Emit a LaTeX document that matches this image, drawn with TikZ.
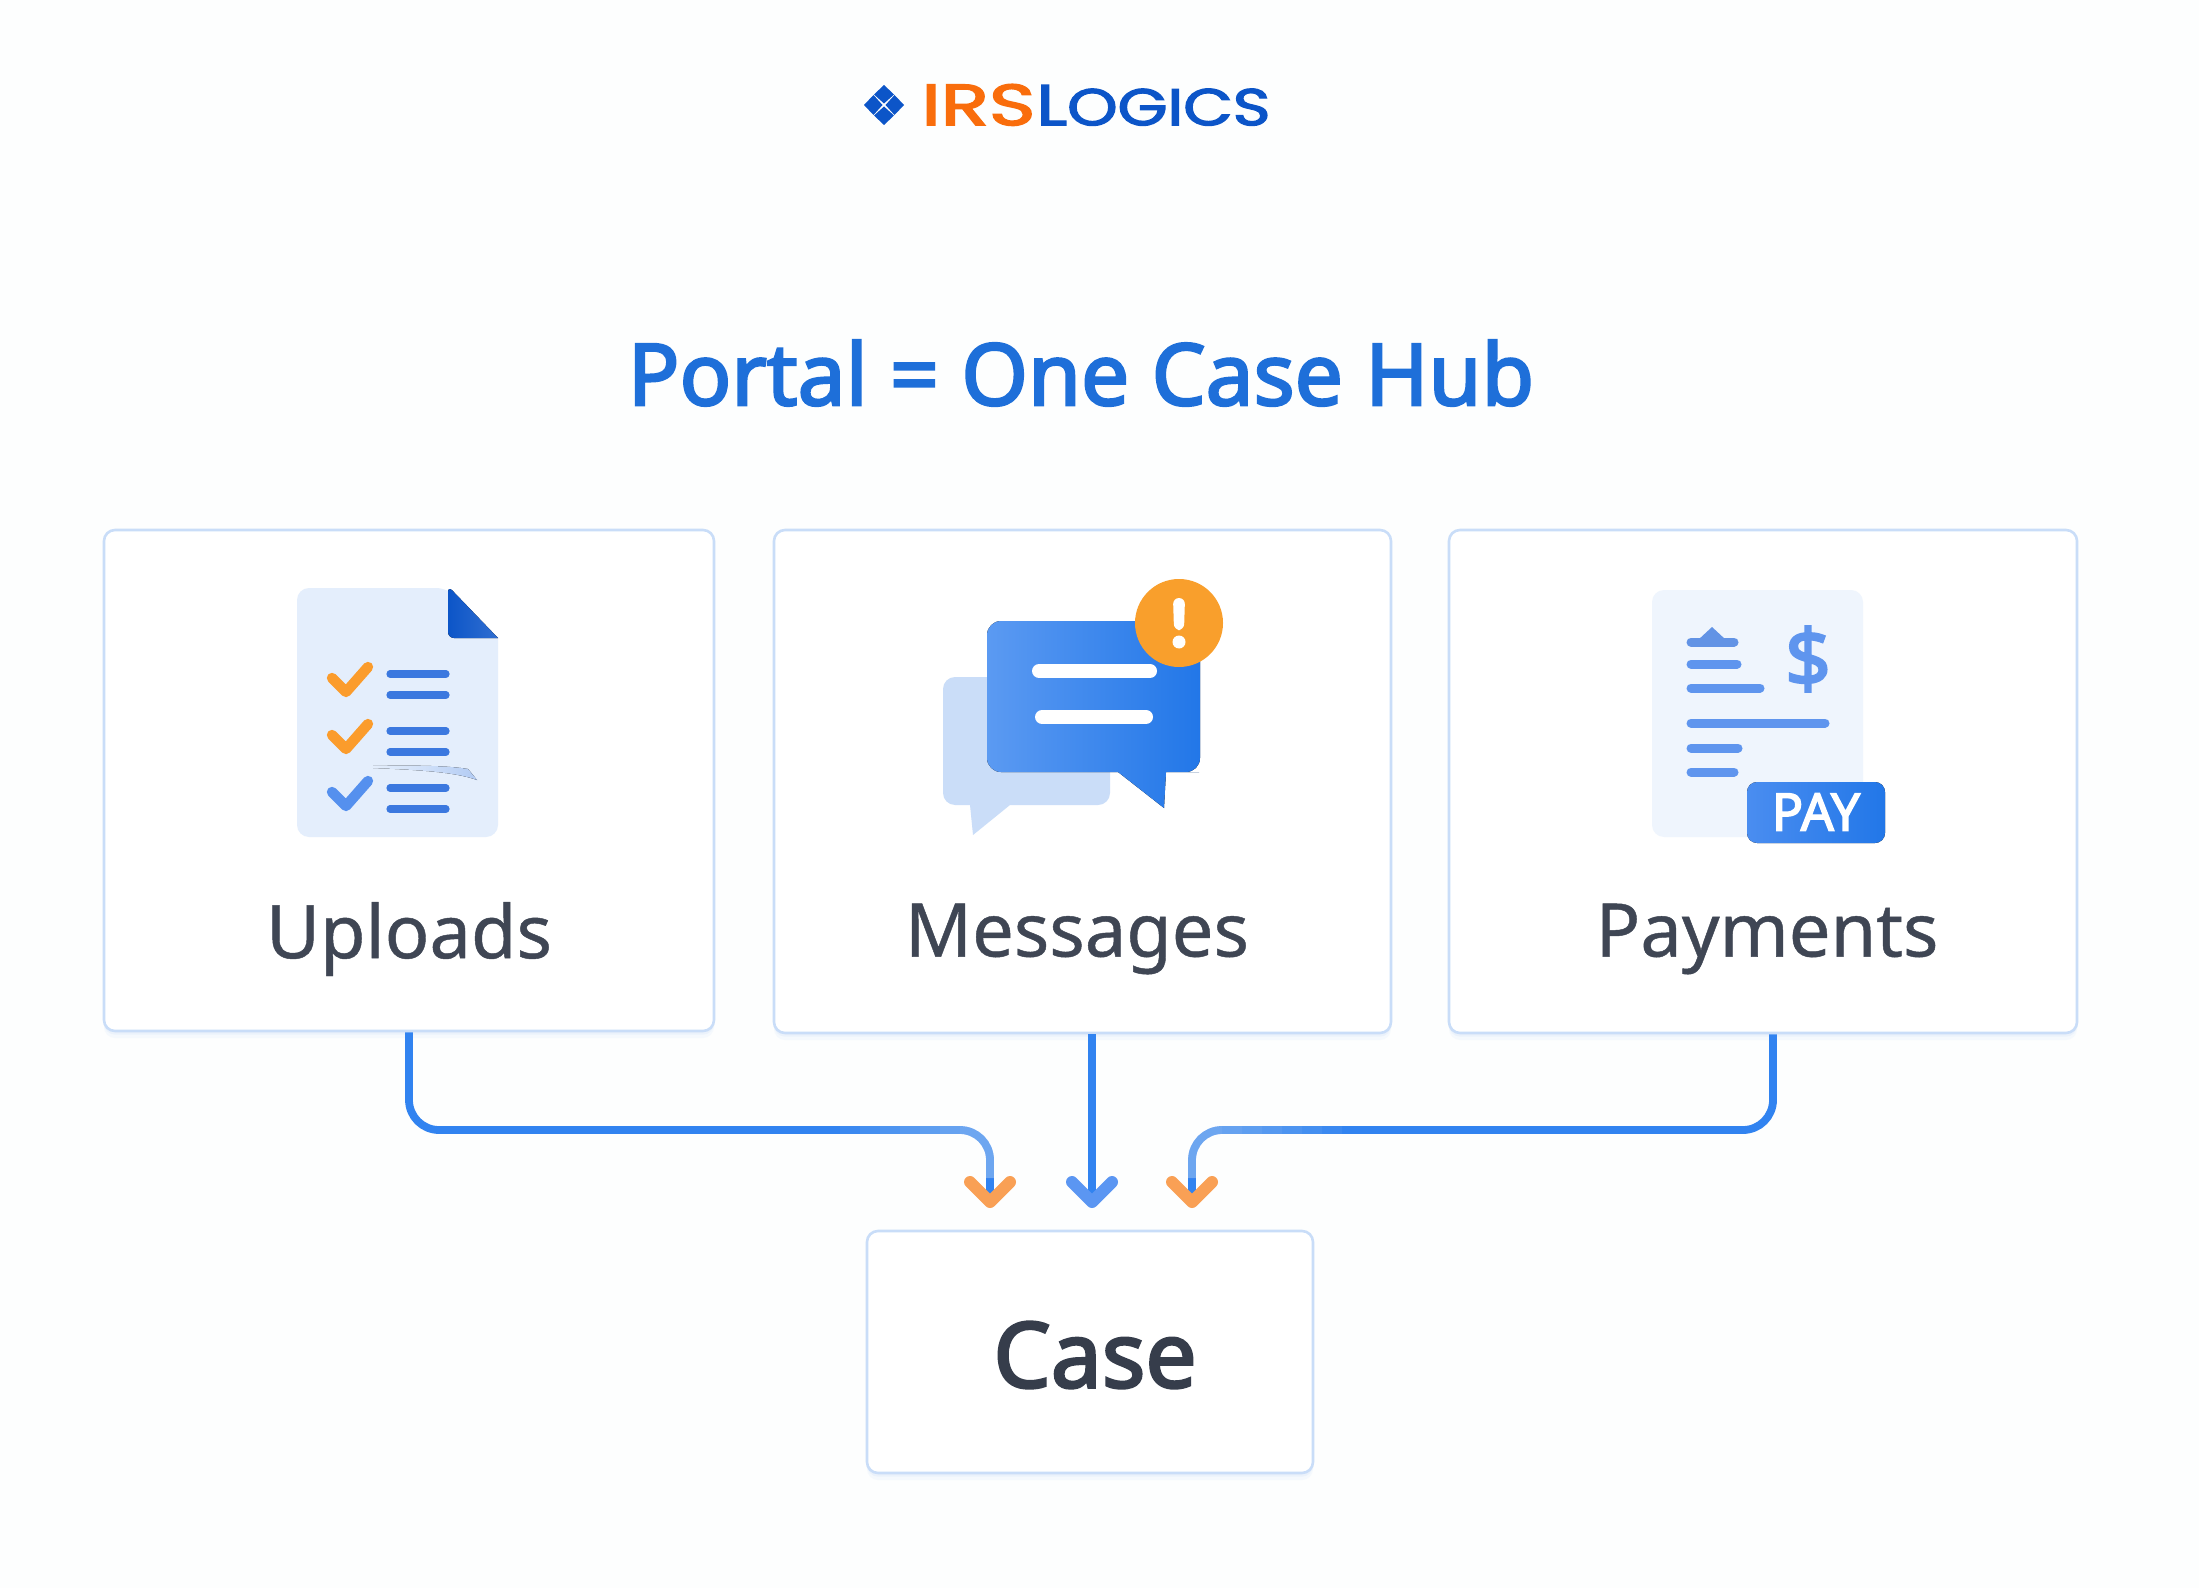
\documentclass[tikz,border=0pt]{standalone}
\usepackage{fontspec}
\usepackage{graphicx}
\usetikzlibrary{arrows.meta,shadows,calc}
\setmainfont{Noto Sans}
\newfontfamily\logofont{Poppins}[FakeBold=2.5]
\newfontfamily\midfont{Noto Sans}[FakeBold=0.6]
\newfontfamily\semifont{Noto Sans}[FakeBold=2.8]
\definecolor{bgc}{HTML}{FDFEFE}
\definecolor{titlec}{HTML}{1E6FD9}
\definecolor{labelc}{HTML}{3F4654}
\definecolor{casec}{HTML}{363D4B}
\definecolor{cardline}{HTML}{C9DDF8}
\definecolor{connc}{HTML}{3183F0}
\definecolor{tipb}{HTML}{5B96F2}
\definecolor{tipo}{HTML}{F9A055}
\definecolor{logoo}{HTML}{F96D0C}
\definecolor{logob}{HTML}{0C55C8}
\definecolor{docc}{HTML}{E4EEFC}
\definecolor{linec}{HTML}{3B78DF}
\definecolor{chko}{HTML}{FB9C2C}
\definecolor{chkb}{HTML}{5590EE}
\definecolor{orangec}{HTML}{F99F2C}
\definecolor{payl}{HTML}{5F95EE}
\definecolor{backb}{HTML}{CADDF8}
\definecolor{frontl}{HTML}{5B9AF2}
\definecolor{frontd}{HTML}{2277E8}
\definecolor{badgel}{HTML}{4A8DF0}
\tikzset{
  x=0.5pt,y=-0.5pt,
  card/.style={draw=cardline,fill=white,line width=1.3pt,rounded corners=5.5pt,inner sep=0,
    drop shadow={shadow xshift=0pt,shadow yshift=-3.5pt,fill=cardline,opacity=.14},
    drop shadow={shadow xshift=0pt,shadow yshift=-1.8pt,fill=cardline,opacity=.22}},
  conn/.style={draw=connc,line width=3.9pt,rounded corners=15pt},
  tipblue/.style={-{Straight Barb[color=tipb,length=10pt,width=20pt,line width=6pt,round]}},
  tiporange/.style={-{Straight Barb[color=tipo,length=10pt,width=20pt,line width=6pt,round]}},
  lbl/.style={text=labelc,font=\midfont\fontsize{37}{40}\selectfont,inner sep=0},
  rule/.style={line width=3.6pt,line cap=round,draw=linec},
  check/.style={line width=5.2pt,line cap=round,line join=round},
  payrule/.style={line width=4.5pt,line cap=round,draw=payl},
}
\begin{document}
\begin{tikzpicture}
\useasboundingbox (0,0) rectangle (2199,1588);
\fill[bgc] (0,0) rectangle (2199,1588);
% logo
\begin{scope}[shift={(884,105)}]
\fill[logob] (0,-20) -- (10,-10.5) -- (0,-1.5) -- (-10,-10.5) -- cycle;
\fill[logob] (0,20) -- (10,10.5) -- (0,1.5) -- (-10,10.5) -- cycle;
\fill[logob] (-20,0) -- (-10.5,-10) -- (-1.5,0) -- (-10.5,10) -- cycle;
\fill[logob] (20,0) -- (10.5,-10) -- (1.5,0) -- (10.5,10) -- cycle;
\end{scope}
\node[anchor=south west,inner sep=0,text=logoo,font=\logofont] (logoa) at (921,126) {\resizebox{57pt}{20.5pt}{IRS}};
\node[anchor=south west,inner sep=0,text=logob,font=\logofont] (logoz) at (1036,126) {\resizebox{117pt}{20pt}{L{\fontsize{9}{9}\selectfont OGICS}}};
% title
\node[inner sep=0,text=titlec,font=\semifont\fontsize{42.8}{46}\selectfont] (title) at (1081,373) {Portal = One Case Hub};
% cards
\node[card,minimum width=305pt,minimum height=250.5pt] (up) at (409,780.5) {};
\node[card,minimum width=308.5pt,minimum height=251.5pt] (msg) at (1082.5,781.5) {};
\node[card,minimum width=314pt,minimum height=251.5pt] (pay) at (1763,781.5) {};
\node[card,minimum width=223pt,minimum height=121pt] (case) at (1090,1352) {};
% labels
\node[lbl] (l1) at (409,939) {Uploads};
\node[lbl] (l2) at (1077,939) {Messages};
\node[lbl] (l3) at (1767,939) {Payments};
\node[inner sep=0,text=casec,font=\semifont\fontsize{45.5}{48}\selectfont] (l4) at (1095,1355) {Case};
% connectors
\coordinate (t1) at (990,1208);
\coordinate (h1) at (990,1130);
\coordinate (t2) at (1092,1208);
\coordinate (t3) at (1192,1208);
\coordinate (h3) at (1192,1130);
\coordinate (s3) at (1773,1033);
\draw[conn,tiporange] (up.south) |- (h1) -- (t1);
\draw[conn,tipblue] (msg.south -| t2) -- (t2);
\draw[conn,tiporange] (pay.south -| s3) |- (h3) -- (t3);
% lighter ends of the two outer connectors
\begin{scope}[line width=3.9pt,white,rounded corners=15pt,opacity=.05]
\foreach \dd in {30,50,70,90,110,130,150} {
  \draw (990-\dd,1130) -- (990,1130) -- (990,1178);
  \draw (1192+\dd,1130) -- (1192,1130) -- (1192,1178);
}
\end{scope}
% uploads icon
\fill[docc,rounded corners=6pt] (297,700) -- (297,588) -- (448,588) [sharp corners] -- (498,638) [rounded corners=6pt] -- (498,837) -- (297,837) -- cycle;
\fill[left color=logob,right color=logob!85!white,rounded corners=3pt] (448,586) [sharp corners] -- (498,638) [rounded corners=3pt] -- (448,638) -- cycle;
\draw[check,chko] (332,678) -- (346,692) -- (368,667);
\draw[check,chko] (332,735) -- (346,749) -- (368,724);
\draw[check,chkb] (332,792) -- (346,806) -- (368,781);
\foreach \yy in {674,695,731,752,788,809} \draw[rule] (390,\yy) -- (446,\yy);
\fill[left color=docc,right color=linec!30!docc,middle color=linec!12!docc] (373,766) .. controls (420,765) and (450,766) .. (468,769) -- (477,780) .. controls (455,772) and (420,770) .. (373,768) -- cycle;
% messages icon
\fill[backb,rounded corners=6pt] (943,740) -- (943,677) -- (1110,677) -- (1110,805) -- (1020,805) [sharp corners] -- (1010,805) -- (973,835) -- (970,805) -- (960,805) [rounded corners=6pt] -- (943,805) -- cycle;
\fill[shading=axis,shading angle=135,left color=frontl,right color=frontd,rounded corners=7pt] (987,700) -- (987,621) -- (1200,621) -- (1200,772) -- (1185,772) [sharp corners] -- (1166,772) -- (1164,808) -- (1118,772) -- (1100,772) [rounded corners=7pt] -- (987,772) -- cycle;
\fill[orangec] (1179,623) circle (44);
\fill[white,rounded corners=3pt] (1173,598) -- (1185,598) -- (1184,630) -- (1174,630) -- cycle;
\fill[white] (1179,642) circle (6.5);
\draw[line width=7pt,line cap=round,white] (1039,671) -- (1150,671);
\draw[line width=7pt,line cap=round,white] (1042,717) -- (1146,717);
% payments icon
\fill[docc!60!white,rounded corners=6pt] (1652,590) rectangle (1863,837);
\draw[payrule,draw=linec!80!white] (1691,642) -- (1734,642);
\fill[linec!80!white] (1698,640) -- (1712,627) -- (1726,640) -- cycle;
\draw[payrule] (1691,664) -- (1737,664);
\draw[payrule] (1691,688) -- (1760,688);
\draw[payrule] (1691,723) -- (1825,723);
\draw[payrule] (1691,748) -- (1738,748);
\draw[payrule] (1691,772) -- (1734,772);
\node[inner sep=0,text=payl,font=\semifont\fontsize{40}{42}\selectfont] (dollar) at (1808,659) {\$};
\fill[left color=badgel,right color=frontd,rounded corners=5pt] (1747,782) rectangle (1885,843);
\node[inner sep=0,text=white,font=\semifont\fontsize{26}{28}\selectfont] (paytxt) at (1816,812) {PAY};
\end{tikzpicture}
\end{document}
